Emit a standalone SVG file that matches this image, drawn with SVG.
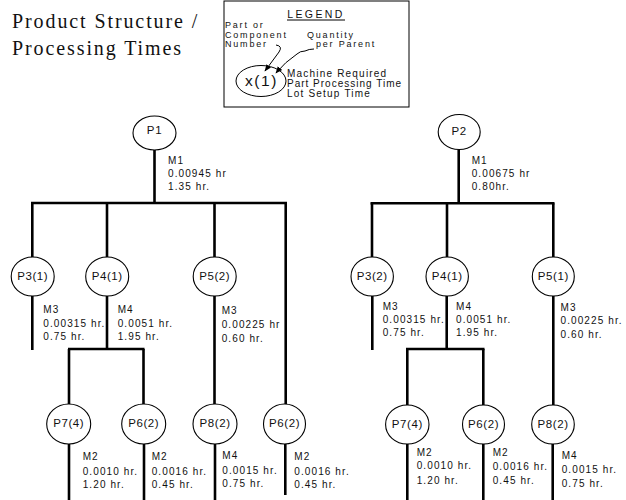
<svg xmlns="http://www.w3.org/2000/svg" width="626" height="500" viewBox="0 0 626 500">
<style>
.title{font-family:"Liberation Serif","Times New Roman",serif;font-size:20px;letter-spacing:1.9px;fill:#111}
.lg{font-family:"Liberation Sans",Arial,sans-serif;fill:#111}
.nd{fill:#fff;stroke:#000;stroke-width:1.1}
.nl{font-family:"Liberation Sans",Arial,sans-serif;font-size:11.5px;letter-spacing:0.6px;text-anchor:middle;fill:#111}
.tx{font-family:"Liberation Sans",Arial,sans-serif;font-size:10px;letter-spacing:1.1px;fill:#111}
.ln{stroke:#000;stroke-width:2.6;fill:none}
.thin{stroke:#000;stroke-width:1;fill:none}
</style>
<defs>
<marker id="ah" viewBox="0 0 10 10" refX="9" refY="5" markerWidth="7" markerHeight="7" orient="auto" markerUnits="userSpaceOnUse">
<path d="M0,1 L10,5 L0,9 z" fill="#000"/>
</marker>
</defs>
<rect width="626" height="500" fill="#fff"/>

<g id="title">
<text class="title" x="12" y="28">Product Structure /</text>
<text class="title" x="12" y="55">Processing Times</text>
</g>

<g id="legend">
<rect x="224" y="1" width="185" height="106" fill="#fff" stroke="#000" stroke-width="1"/>
<text class="lg" x="316" y="18" font-size="10.5" letter-spacing="2.4" text-anchor="middle">LEGEND</text>
<line x1="287" y1="20" x2="345" y2="20" stroke="#000" stroke-width="1"/>
<text class="lg" x="225" y="28" font-size="9" letter-spacing="1.8">Part or</text>
<text class="lg" x="225" y="37.5" font-size="9" letter-spacing="1.8">Component</text>
<text class="lg" x="225" y="46.5" font-size="9" letter-spacing="1.8">Number</text>
<text class="lg" x="307" y="37.5" font-size="9" letter-spacing="1.8">Quantity</text>
<text class="lg" x="316" y="46.5" font-size="9" letter-spacing="1.8">per Parent</text>
<ellipse cx="261" cy="81" rx="25" ry="15.5" fill="none" stroke="#000" stroke-width="1"/>
<text class="lg" x="261.5" y="86" font-size="15.5" letter-spacing="1.6" text-anchor="middle">x(1)</text>
<text class="lg" x="287" y="77" font-size="10" letter-spacing="1.2">Machine Required</text>
<text class="lg" x="287" y="87" font-size="10" letter-spacing="1.0">Part Processing Time</text>
<text class="lg" x="287" y="96.5" font-size="10" letter-spacing="1.2">Lot Setup Time</text>
<path class="thin" d="M276,45 Q283,46 279,52 L265,71" marker-end="url(#ah)"/>
<path class="thin" d="M314,49 Q309,49 305,51 Q300,51 297,54 Q285,62 276,73" marker-end="url(#ah)"/>
</g>

<g id="connectors">
<line class="ln" x1="154.5" y1="150" x2="154.5" y2="203"/>
<line class="ln" x1="31" y1="203" x2="287" y2="203"/>
<line class="ln" x1="32.3" y1="203" x2="32.3" y2="258"/>
<line class="ln" x1="107" y1="203" x2="107" y2="258"/>
<line class="ln" x1="214.5" y1="203" x2="214.5" y2="257"/>
<line class="ln" x1="285.7" y1="203" x2="285.7" y2="404"/>
<line class="ln" x1="32.3" y1="296" x2="32.3" y2="350"/>
<line class="ln" x1="107" y1="296" x2="107" y2="349"/>
<line class="ln" x1="68" y1="349" x2="144.5" y2="349"/>
<line class="ln" x1="69" y1="349" x2="69" y2="404"/>
<line class="ln" x1="143.5" y1="349" x2="143.5" y2="404"/>
<line class="ln" x1="214.5" y1="296" x2="214.5" y2="404"/>
<line class="ln" x1="69" y1="444" x2="69" y2="500"/>
<line class="ln" x1="144" y1="444" x2="144" y2="500"/>
<line class="ln" x1="215" y1="444" x2="215" y2="500"/>
<line class="ln" x1="285.3" y1="444" x2="285.3" y2="495"/>
<line class="ln" x1="458.7" y1="149.5" x2="458.7" y2="203.3"/>
<line class="ln" x1="370.5" y1="203.3" x2="554.5" y2="203.3"/>
<line class="ln" x1="372" y1="203.3" x2="372" y2="257"/>
<line class="ln" x1="447" y1="203.3" x2="447" y2="257"/>
<line class="ln" x1="553.3" y1="203.3" x2="553.3" y2="257"/>
<line class="ln" x1="372.3" y1="296" x2="372.3" y2="350"/>
<line class="ln" x1="446.7" y1="296" x2="446.7" y2="349"/>
<line class="ln" x1="406" y1="349" x2="484.5" y2="349"/>
<line class="ln" x1="407.3" y1="349" x2="407.3" y2="405"/>
<line class="ln" x1="483.3" y1="349" x2="483.3" y2="405"/>
<line class="ln" x1="553.3" y1="296" x2="553.3" y2="405"/>
<line class="ln" x1="407.3" y1="444" x2="407.3" y2="500"/>
<line class="ln" x1="483.3" y1="444" x2="483.3" y2="500"/>
<line class="ln" x1="552.7" y1="444" x2="552.7" y2="500"/>
</g>

<g id="P1"><ellipse class="nd" cx="154.5" cy="133" rx="21.5" ry="17"/><text class="nl" x="154.5" y="133.5">P1</text>
<text class="tx" x="168" y="163.5">M1</text><text class="tx" x="168" y="176.5">0.00945 hr</text><text class="tx" x="168" y="190">1.35 hr.</text></g>
<g id="P1-P3"><ellipse class="nd" cx="32.7" cy="276.5" rx="21.5" ry="19.5"/><text class="nl" x="32.7" y="279.5">P3(1)</text>
<text class="tx" x="43.3" y="312.5">M3</text><text class="tx" x="43.3" y="326.5">0.00315 hr.</text><text class="tx" x="43.3" y="340">0.75 hr.</text></g>
<g id="P1-P4"><ellipse class="nd" cx="107.2" cy="276.5" rx="21.5" ry="19.5"/><text class="nl" x="107.2" y="279.5">P4(1)</text>
<text class="tx" x="117.7" y="312.5">M4</text><text class="tx" x="117.7" y="326.5">0.0051 hr.</text><text class="tx" x="117.7" y="340">1.95 hr.</text></g>
<g id="P1-P5"><ellipse class="nd" cx="214.7" cy="276.5" rx="21.5" ry="19.5"/><text class="nl" x="214.7" y="279.5">P5(2)</text>
<text class="tx" x="221.7" y="313.5">M3</text><text class="tx" x="221.7" y="328">0.00225 hr</text><text class="tx" x="221.7" y="341.5">0.60 hr.</text></g>
<g id="P1-P7"><ellipse class="nd" cx="68.7" cy="424" rx="22" ry="20"/><text class="nl" x="68.7" y="427">P7(4)</text>
<text class="tx" x="82.7" y="459.5">M2</text><text class="tx" x="82.7" y="475">0.0010 hr.</text><text class="tx" x="82.7" y="487.5">1.20 hr.</text></g>
<g id="P1-P6a"><ellipse class="nd" cx="143.7" cy="424" rx="22" ry="20"/><text class="nl" x="143.7" y="427">P6(2)</text>
<text class="tx" x="151.7" y="459.5">M2</text><text class="tx" x="151.7" y="475">0.0016 hr.</text><text class="tx" x="151.7" y="487.5">0.45 hr.</text></g>
<g id="P1-P8"><ellipse class="nd" cx="215" cy="424" rx="22" ry="20"/><text class="nl" x="215" y="427">P8(2)</text>
<text class="tx" x="222.3" y="458.5">M4</text><text class="tx" x="222.3" y="473.5">0.0015 hr.</text><text class="tx" x="222.3" y="486.5">0.75 hr.</text></g>
<g id="P1-P6b"><ellipse class="nd" cx="284.5" cy="424" rx="21" ry="20"/><text class="nl" x="284.5" y="427">P6(2)</text>
<text class="tx" x="294.3" y="459.5">M2</text><text class="tx" x="294.3" y="475">0.0016 hr.</text><text class="tx" x="294.3" y="487.5">0.45 hr.</text></g>

<g id="P2"><ellipse class="nd" cx="459.2" cy="132" rx="21" ry="17.5"/><text class="nl" x="459.2" y="135">P2</text>
<text class="tx" x="471.7" y="163.5">M1</text><text class="tx" x="471.7" y="176.5">0.00675 hr</text><text class="tx" x="471.7" y="190">0.80hr.</text></g>
<g id="P2-P3"><ellipse class="nd" cx="372.2" cy="276.5" rx="21.2" ry="19.5"/><text class="nl" x="372.2" y="279.5">P3(2)</text>
<text class="tx" x="382.7" y="309.5">M3</text><text class="tx" x="382.7" y="323">0.00315 hr.</text><text class="tx" x="382.7" y="336">0.75 hr.</text></g>
<g id="P2-P4"><ellipse class="nd" cx="447.2" cy="276.5" rx="21.2" ry="19.5"/><text class="nl" x="447.2" y="279.5">P4(1)</text>
<text class="tx" x="456" y="309.5">M4</text><text class="tx" x="456" y="323">0.0051 hr.</text><text class="tx" x="456" y="336">1.95 hr.</text></g>
<g id="P2-P5"><ellipse class="nd" cx="553.3" cy="276.5" rx="21" ry="19.5"/><text class="nl" x="553.3" y="279.5">P5(1)</text>
<text class="tx" x="560.5" y="311">M3</text><text class="tx" x="560.5" y="324">0.00225 hr.</text><text class="tx" x="560.5" y="338.3">0.60 hr.</text></g>
<g id="P2-P7"><ellipse class="nd" cx="407.3" cy="424.5" rx="21.7" ry="19.5"/><text class="nl" x="407.3" y="427.5">P7(4)</text>
<text class="tx" x="416.7" y="455.5">M2</text><text class="tx" x="416.7" y="468.5">0.0010 hr.</text><text class="tx" x="416.7" y="484">1.20 hr.</text></g>
<g id="P2-P6"><ellipse class="nd" cx="483.5" cy="424.5" rx="21" ry="19.5"/><text class="nl" x="483.5" y="427.5">P6(2)</text>
<text class="tx" x="492.7" y="455.5">M2</text><text class="tx" x="492.7" y="470">0.0016 hr.</text><text class="tx" x="492.7" y="483.5">0.45 hr.</text></g>
<g id="P2-P8"><ellipse class="nd" cx="553" cy="424.5" rx="21.3" ry="19.5"/><text class="nl" x="553" y="427.5">P8(2)</text>
<text class="tx" x="561.7" y="458.5">M4</text><text class="tx" x="561.7" y="472.5">0.0015 hr.</text><text class="tx" x="561.7" y="486.5">0.75 hr.</text></g>
</svg>
